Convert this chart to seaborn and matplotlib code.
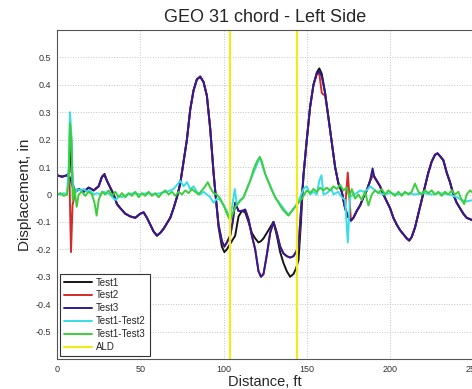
import matplotlib
matplotlib.use("Agg")
import matplotlib.pyplot as plt
import seaborn as sns
import pandas as pd

# distance grid shared by the three test runs (ft)
dist_t = [0, 3, 6, 7.5, 8.4, 9.3, 11, 13, 16, 19,
          22, 25, 27, 28.5, 30, 32, 34, 36, 38, 41,
          44, 47, 50, 52, 54, 56, 58, 60, 62, 64,
          66, 68, 70, 72, 74, 76, 78, 80, 82, 84,
          86, 88, 90, 92, 94, 95.5, 97, 99, 100.5, 102,
          104, 105.5, 107, 109, 111, 113, 115, 117, 119, 121,
          122.5, 124, 126, 128, 130, 132, 134, 136, 138, 140,
          142, 143.5, 145, 146.5, 148, 150, 152, 154, 156, 157.5,
          159, 161, 163, 165, 167, 169, 171, 173, 174.6, 176.5,
          178, 180, 182, 184, 186, 188, 189.5, 190.5, 192, 194,
          196, 198, 200, 202, 204, 206, 208, 210, 211.5, 213,
          215, 217, 219, 221, 223, 225, 227, 228.5, 230, 232,
          234, 236, 238, 240, 242, 244, 246, 248, 250]

test1 = [0.07, 0.065, 0.07, 0.08, 0.22, 0.04, 0.01, 0.02, 0.01, 0.025,
         0.015, 0.03, 0.065, 0.075, 0.05, 0.025, 0.0, -0.035, -0.05, -0.07,
         -0.08, -0.085, -0.07, -0.065, -0.085, -0.11, -0.135, -0.15, -0.14, -0.125,
         -0.105, -0.085, -0.05, -0.01, 0.04, 0.12, 0.2, 0.31, 0.38, 0.42,
         0.43, 0.41, 0.36, 0.24, 0.08, -0.02, -0.12, -0.19, -0.21, -0.2,
         -0.18, -0.165, -0.15, -0.08, -0.06, -0.065, -0.1, -0.14, -0.16, -0.175,
         -0.17, -0.16, -0.14, -0.12, -0.1, -0.15, -0.21, -0.25, -0.28, -0.3,
         -0.29, -0.27, -0.24, -0.1, 0.07, 0.2, 0.32, 0.4, 0.445, 0.46,
         0.44, 0.37, 0.28, 0.19, 0.1, 0.04, 0.01, -0.05, -0.08, -0.095,
         -0.085, -0.06, -0.04, -0.01, 0.015, 0.05, 0.07, 0.065, 0.05, 0.03,
         0.0, -0.025, -0.05, -0.085, -0.11, -0.13, -0.145, -0.16, -0.168, -0.155,
         -0.12, -0.07, -0.02, 0.03, 0.08, 0.12, 0.145, 0.15, 0.14, 0.125,
         0.08, 0.045, 0.0, -0.03, -0.05, -0.07, -0.085, -0.09, -0.095]

test2 = [0.07, 0.065, 0.07, 0.05, -0.21, -0.04, 0.01, 0.02, 0.01, 0.025,
         0.015, 0.03, 0.065, 0.07, 0.05, 0.025, 0.0, -0.035, -0.05, -0.07,
         -0.08, -0.085, -0.07, -0.065, -0.085, -0.11, -0.135, -0.15, -0.14, -0.125,
         -0.105, -0.085, -0.05, -0.01, 0.04, 0.12, 0.2, 0.31, 0.38, 0.42,
         0.43, 0.41, 0.36, 0.24, 0.08, -0.02, -0.11, -0.17, -0.19, -0.175,
         -0.15, -0.1, -0.03, -0.06, -0.06, -0.055, -0.09, -0.15, -0.2, -0.28,
         -0.3, -0.29, -0.22, -0.14, -0.1, -0.14, -0.19, -0.215, -0.225, -0.23,
         -0.225, -0.21, -0.19, -0.06, 0.07, 0.2, 0.32, 0.4, 0.44, 0.44,
         0.37, 0.36, 0.28, 0.19, 0.1, 0.04, 0.01, -0.05, 0.08, -0.095,
         -0.085, -0.06, -0.04, -0.01, 0.015, 0.05, 0.07, 0.065, 0.05, 0.03,
         0.0, -0.025, -0.05, -0.085, -0.11, -0.13, -0.145, -0.16, -0.168, -0.155,
         -0.12, -0.07, -0.02, 0.03, 0.08, 0.12, 0.145, 0.15, 0.14, 0.125,
         0.08, 0.045, 0.0, -0.03, -0.05, -0.07, -0.085, -0.09, -0.095]

test3 = [0.07, 0.065, 0.07, 0.065, 0.05, 0.03, 0.01, 0.02, 0.01, 0.025,
         0.015, 0.03, 0.065, 0.07, 0.05, 0.025, 0.0, -0.035, -0.05, -0.07,
         -0.08, -0.085, -0.07, -0.065, -0.085, -0.11, -0.135, -0.15, -0.14, -0.125,
         -0.105, -0.085, -0.05, -0.01, 0.04, 0.12, 0.2, 0.31, 0.38, 0.42,
         0.43, 0.41, 0.36, 0.24, 0.08, -0.02, -0.11, -0.17, -0.19, -0.175,
         -0.15, -0.1, -0.03, -0.06, -0.06, -0.055, -0.09, -0.15, -0.2, -0.28,
         -0.3, -0.29, -0.22, -0.14, -0.1, -0.14, -0.19, -0.215, -0.225, -0.23,
         -0.225, -0.21, -0.19, -0.06, 0.07, 0.2, 0.32, 0.4, 0.44, 0.45,
         0.43, 0.37, 0.28, 0.19, 0.1, 0.04, 0.01, -0.05, -0.08, -0.095,
         -0.085, -0.06, -0.04, -0.01, 0.015, 0.05, 0.095, 0.065, 0.05, 0.03,
         0.0, -0.025, -0.05, -0.085, -0.11, -0.13, -0.145, -0.16, -0.168, -0.155,
         -0.12, -0.07, -0.02, 0.03, 0.08, 0.12, 0.145, 0.15, 0.14, 0.125,
         0.08, 0.045, 0.0, -0.03, -0.05, -0.07, -0.085, -0.09, -0.095]

# Test1-Test2 difference
dist_d12 = [0, 2, 4, 6, 7, 7.8, 8.6, 9.4, 10.5, 12,
            14, 16, 18, 20, 22, 24, 26, 28, 30, 32,
            34, 35.5, 37, 39, 42, 46, 50, 54, 58, 62,
            66, 70, 72, 74, 76, 78, 80, 82, 84, 86,
            88, 90, 92, 94, 96, 98, 100.5, 102, 104, 105.5,
            106.8, 108, 110, 112, 116, 121.8, 125, 131, 139, 143,
            146, 148, 150, 152, 154, 156, 157.5, 158.8, 160, 162,
            164.8, 166, 168.8, 171, 173, 174.6, 176, 178, 180, 182,
            184, 186, 188, 190, 192, 194, 196, 200, 205, 210,
            215, 220, 225, 230, 236, 240, 243, 246, 250]
diff12 = [0.0, 0.0, 0.005, 0.0, 0.1, 0.3, 0.22, 0.05, 0.0, 0.02,
          0.015, 0.02, 0.01, 0.015, 0.0, 0.005, 0.0, 0.01, 0.005, 0.0,
          -0.015, -0.02, -0.005, -0.01, 0.0, 0.005, 0.0, 0.005, 0.0, 0.005,
          0.01, 0.02, 0.035, 0.05, 0.03, 0.045, 0.02, 0.03, 0.01, 0.0,
          0.01, 0.0, -0.01, -0.03, -0.015, -0.02, -0.045, -0.06, -0.09, -0.03,
          0.02, -0.04, -0.02, -0.01, 0.05, 0.135, 0.075, -0.01, -0.075, -0.045,
          -0.01, 0.02, 0.03, 0.0, 0.01, 0.0, 0.05, 0.07, 0.0, 0.005,
          0.02, 0.0, 0.01, -0.01, -0.02, -0.175, -0.01, 0.0, 0.005, 0.015,
          0.01, 0.015, 0.03, 0.02, 0.01, 0.005, 0.0, 0.005, 0.0, 0.005,
          0.0, 0.005, 0.0, 0.005, 0.0, -0.01, -0.02, -0.025, -0.02]

# Test1-Test3 difference
dist_d13 = [0, 2, 4, 6, 7, 7.8, 8.6, 9.4, 10.5, 11.8,
            13, 15, 17, 19, 21, 22.5, 23.8, 25, 27, 29,
            31, 33, 35, 37, 39, 41, 43, 45, 47, 49,
            51, 53, 55, 57, 59, 61, 63, 65, 67, 69,
            71, 73, 75, 77, 79, 81, 83, 85, 87, 89,
            90.5, 92, 94, 96, 98, 100.5, 102, 104, 105.5, 107,
            109, 112, 114, 116, 118, 120, 121.8, 123, 125, 127,
            129, 131, 133, 135, 137, 139, 141, 143, 145, 147,
            150, 152, 154, 156, 158, 160, 162, 164, 166, 168,
            170, 172, 174, 175.5, 177, 179, 181, 183, 185, 187,
            189, 191, 193, 195, 197, 199, 201, 203, 205, 207,
            209, 211, 213, 215, 217, 219, 221, 223, 225, 227,
            229, 231, 233, 235, 237, 239, 241, 243, 244.5, 246,
            248, 250]
diff13 = [0.0, 0.005, -0.005, 0.0, 0.05, 0.26, 0.2, -0.02, 0.02, -0.045,
          0.0, 0.01, -0.005, 0.01, 0.0, -0.03, -0.077, -0.02, 0.01, 0.0,
          0.015, -0.005, 0.01, -0.01, 0.005, -0.01, 0.005, -0.005, 0.01, -0.01,
          0.005, -0.005, 0.01, -0.005, 0.005, -0.01, 0.005, 0.015, 0.0, 0.01,
          -0.005, 0.01, 0.0, 0.015, 0.005, 0.02, 0.01, 0.0, 0.015, 0.03,
          0.045, 0.025, 0.005, 0.0, -0.015, -0.045, -0.07, -0.095, -0.07, -0.045,
          -0.03, -0.01, 0.02, 0.05, 0.09, 0.12, 0.137, 0.12, 0.075, 0.045,
          0.015, -0.01, -0.03, -0.05, -0.065, -0.077, -0.06, -0.045, -0.03, -0.015,
          0.015, 0.005, 0.02, 0.01, 0.025, 0.015, 0.025, 0.015, 0.03, 0.02,
          0.035, 0.015, 0.025, -0.01, 0.02, -0.015, 0.0, -0.02, 0.01, -0.04,
          0.0, 0.015, 0.005, 0.02, 0.0, 0.015, 0.005, -0.005, 0.01, -0.005,
          0.01, 0.0, 0.01, 0.04, 0.01, 0.0, 0.015, 0.005, 0.015, 0.0,
          0.01, -0.005, 0.01, 0.0, 0.015, 0.0, 0.01, -0.02, -0.035, 0.0,
          0.015, 0.005]

ald_positions = [104, 144]

x_ticks = [0, 50, 100, 150, 200, 250]
y_ticks = [-0.5, -0.4, -0.3, -0.2, -0.1, 0, 0.1, 0.2, 0.3, 0.4, 0.5]
y_tick_labels = ["-0.5", "-0.4", "-0.3", "-0.2", "-0.1", "0",
                 "0.1", "0.2", "0.3", "0.4", "0.5"]

sns.set_style("white")
plt.rcParams["font.family"] = ["Liberation Sans", "DejaVu Sans"]

fig = plt.figure(figsize=(4.72, 3.89), dpi=100)
ax = fig.add_axes([0.1208, 0.0771, 0.882, 0.8458])

series = [
    ("Test1", dist_t, test1, "#151515"),
    ("Test2", dist_t, test2, "#d42a2a"),
    ("Test3", dist_t, test3, "#2c1c94"),
    ("Test1-Test2", dist_d12, diff12, "#38dde6"),
    ("Test1-Test3", dist_d13, diff13, "#3ccf3c"),
]
for name, xs, ys, col in series:
    df = pd.DataFrame({"Distance": xs, "Displacement": ys})
    sns.lineplot(data=df, x="Distance", y="Displacement", ax=ax, color=col,
                 lw=1.4, label=name, estimator=None, sort=False)

for i, xv in enumerate(ald_positions):
    ax.axvline(xv, color="#f2ea1e", lw=1.6, label="ALD" if i == 0 else None)

ax.set_xlim(0, 250)
ax.set_ylim(-0.6, 0.6)
ax.set_xticks(x_ticks)
ax.set_yticks(y_ticks)
ax.set_yticklabels(y_tick_labels)
ax.grid(True, color="#c4c4c4", linestyle=":", lw=0.7)
ax.tick_params(direction="in", length=3, labelsize=6.5, pad=4, colors="#333333")
for s in ax.spines.values():
    s.set_color("#555555")
    s.set_linewidth(0.8)

ax.set_title("GEO 31 chord - Left Side", fontsize=13, pad=6)
ax.set_xlabel("Distance, ft", fontsize=10.5, labelpad=1)
ax.set_ylabel("Displacement, in", fontsize=11, labelpad=3)

leg = ax.legend(loc="lower left", bbox_to_anchor=(0.007, 0.009), borderaxespad=0,
                fontsize=7, handlelength=2.9, handletextpad=0.4, labelspacing=0.3,
                borderpad=0.4, fancybox=False, framealpha=1)
leg.get_frame().set_edgecolor("#333333")
leg.get_frame().set_linewidth(0.8)

fig.savefig("out.png", dpi=100)
